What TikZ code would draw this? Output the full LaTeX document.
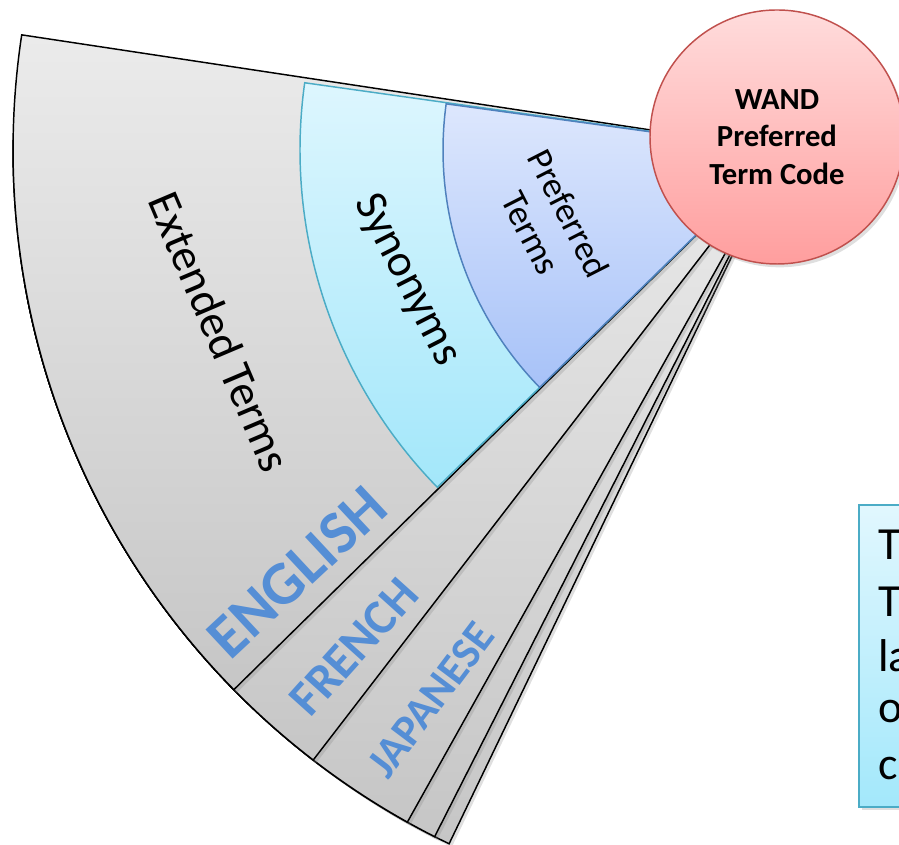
\documentclass[tikz,border=0pt]{standalone}
\usepackage{fontspec}
\setmainfont{Carlito}
\usetikzlibrary{shadows}
\definecolor{pagetop}{HTML}{EBEBEB}
\definecolor{pagebot}{HTML}{C6C6C6}
\definecolor{syntop}{HTML}{DDF6FE}
\definecolor{synbot}{HTML}{A3E7FA}
\definecolor{synedge}{HTML}{4BACC6}
\definecolor{preftop}{HTML}{DDE7FD}
\definecolor{prefbot}{HTML}{A7C2F8}
\definecolor{prefedge}{HTML}{4F81BD}
\definecolor{wandtop}{HTML}{FFDCDC}
\definecolor{wandbot}{HTML}{FF9E9E}
\definecolor{wandedge}{HTML}{C0504D}
\definecolor{langblue}{HTML}{558ED5}
\definecolor{notetop}{HTML}{E1F7FE}
\definecolor{notebot}{HTML}{A3E8FB}
\begin{document}
\begin{tikzpicture}[x=0.75pt,y=0.75pt,
  softshadow/.style={drop shadow={shadow xshift=2pt,shadow yshift=-2.5pt,opacity=0.25}},
  page/.style={draw=black,line width=1.1pt,top color=pagetop,bottom color=pagebot,softshadow},
  synring/.style={draw=synedge,line width=1.1pt,top color=syntop,bottom color=synbot},
  prefring/.style={draw=prefedge,line width=1.1pt,top color=preftop,bottom color=prefbot},
  termtext/.style 2 args={font=\fontsize{#1}{#2}\selectfont,align=center},
  langtext/.style={text=langblue,font=\bfseries\fontsize{#1}{#1}\selectfont},
  wand/.style={circle,minimum size=190.5pt,inner sep=0pt,draw=wandedge,line width=1.1pt,
    top color=wandtop,bottom color=wandbot,align=center,softshadow,
    font=\bfseries\fontsize{23}{28}\selectfont},
  notebox/.style={draw=synedge,line width=1.1pt,top color=notetop,bottom color=notebot,softshadow},
  notetext/.style={font=\fontsize{34.5}{41}\selectfont,anchor=base west,inner sep=0pt}]
\useasboundingbox (0,0) rectangle (899,845);
\clip (0,0) rectangle (899,845);
\coordinate (apex) at (783,695);

% language pages, back to front
\foreach \a/\b in {191.2/244.3, 190/243.1, 187.7/240.8, 179.3/232.4, 171.4/224.5}
  \filldraw[page] (apex) -- ++(\a:770) arc[start angle=\a, end angle=\b, radius=770] -- cycle;

% rings of the english page
\filldraw[synring] (apex) -- ++(172:483) arc[start angle=172, end angle=224.3, radius=483] -- cycle;
\filldraw[prefring] (apex) -- ++(172.2:340) arc[start angle=172.2, end angle=224.3, radius=340] -- cycle;

\node[termtext={34.5}{41}, rotate=-67] (ext) at (220,513) {Extended Terms};
\node[termtext={34}{40}, rotate=-63] (syn) at (407,565) {Synonyms};
\node[termtext={27}{32}, rotate=-63] (pref) at (550,622) {Preferred\\Terms};

\node[langtext=46, rotate=43] (english) at (297,273) {ENGLISH};
\node[langtext=37, rotate=48] (french) at (354,198) {FRENCH};
\node[langtext=33, rotate=53] (japanese) at (431,145) {JAPANESE};

\node[wand] (code) at (777,708) {WAND\\Preferred\\Term Code};

% note box, cut by the right edge
\filldraw[notebox] (859,38) rectangle (930,340);
\foreach \t/\y [count=\i] in {T/285, T/228, la/173, o/122, c/65}
  \node[notetext] (note\i) at (878,\y) {\t};
\end{tikzpicture}
\end{document}
